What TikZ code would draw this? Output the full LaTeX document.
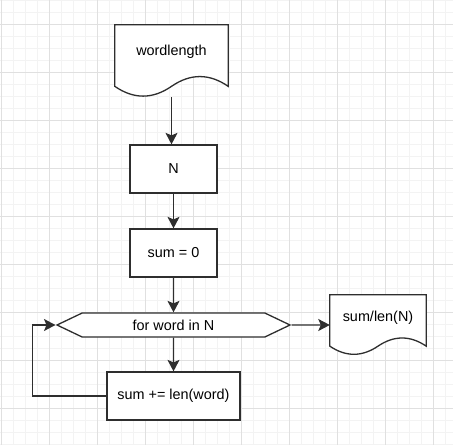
\documentclass[tikz,border=0pt]{standalone}
\usepackage{fontspec}
\setmainfont{Liberation Sans}
\usetikzlibrary{arrows.meta,calc,shapes.symbols}

\definecolor{gridminor}{HTML}{F3F3F3}
\definecolor{gridmajor}{HTML}{E0E0E0}
\definecolor{strokegray}{HTML}{2E2E2E}

% wavy outline round a doc node, the wave is 0.3 of its height
\newcommand\docoutline[1]{%
  \filldraw[shape line] let \p1=(#1.south west), \p2=(#1.north east),
    \n1={\x2-\x1}, \n2={0.3*(\y2-\y1)} in
    (\x1,\y2) -- (\x2,\y2) -- (\x2,\y1+0.5*\n2)
    .. controls (\x2-\n1/6,\y1+1.1*\n2) and (\x1+2*\n1/3,\y1+1.1*\n2) .. (\x1+0.5*\n1,\y1+0.5*\n2)
    .. controls (\x1+\n1/3,\y1-0.1*\n2) and (\x1+\n1/6,\y1-0.1*\n2) .. (\x1,\y1+0.5*\n2) -- cycle;}

\begin{document}
\begin{tikzpicture}[x=1pt, y=-1pt,
  every node/.style={font=\fontsize{14.4}{17}\selectfont},
  shape line/.style={draw=strokegray, fill=white, line width=1.3pt},
  flow/.style={draw=strokegray, line width=1.3pt, -{Stealth[length=11.5pt, width=12pt, inset=2.5pt]}},
  proc node/.style={rectangle, shape line, minimum width=87pt, minimum height=48pt, inner sep=0pt},
  loop node/.style={signal, signal to=west and east, signal pointer angle=51, shape line, minimum width=233pt, minimum height=24pt, inner sep=0pt},
  doc node/.style={rectangle, inner sep=0pt}]
\useasboundingbox (0,0) rectangle (453,445);
% background grid
\foreach \x in {1,13,...,445} \draw[gridminor, line width=1pt] (\x,0) -- (\x,445);
\foreach \y in {0,12,...,444} \draw[gridminor, line width=1pt] (0,\y) -- (453,\y);
\foreach \x in {1,49,...,433} \draw[gridmajor, line width=1pt] (\x,0) -- (\x,445);
\foreach \y in {24,72,...,408} \draw[gridmajor, line width=1pt] (0,\y) -- (453,\y);

\begin{scope}
\node[doc node, minimum width=113pt, minimum height=72pt] (src) at (171.5,61) {};
\docoutline{src}
\node at ($(src.center)+(0,-9)$) {wordlength};
\node[proc node] (n) at (173.5,169) {N};
\node[proc node] (init) at (173.5,253) {sum = 0};
\node[loop node] (loop) at (173.5,325) {for word in N};
\node[proc node, minimum width=133pt] (acc) at (173.5,396) {sum += len(word)};
\node[doc node, minimum width=96pt, minimum height=60pt] (res) at (378,325) {};
\docoutline{res}
\node at ($(res.center)+(0,-7)$) {sum/len(N)};
\end{scope}

\begin{scope}[every edge/.style={flow}]
\draw (src.south) edge (src.south |- n.north);
\draw (n) edge (init);
\draw (init) edge (loop);
\draw (loop) edge (acc);
\draw (loop) edge (res);
\draw[flow] (acc.west) -- ++(-74,0) |- (loop.west);
\end{scope}
\end{tikzpicture}
\end{document}
